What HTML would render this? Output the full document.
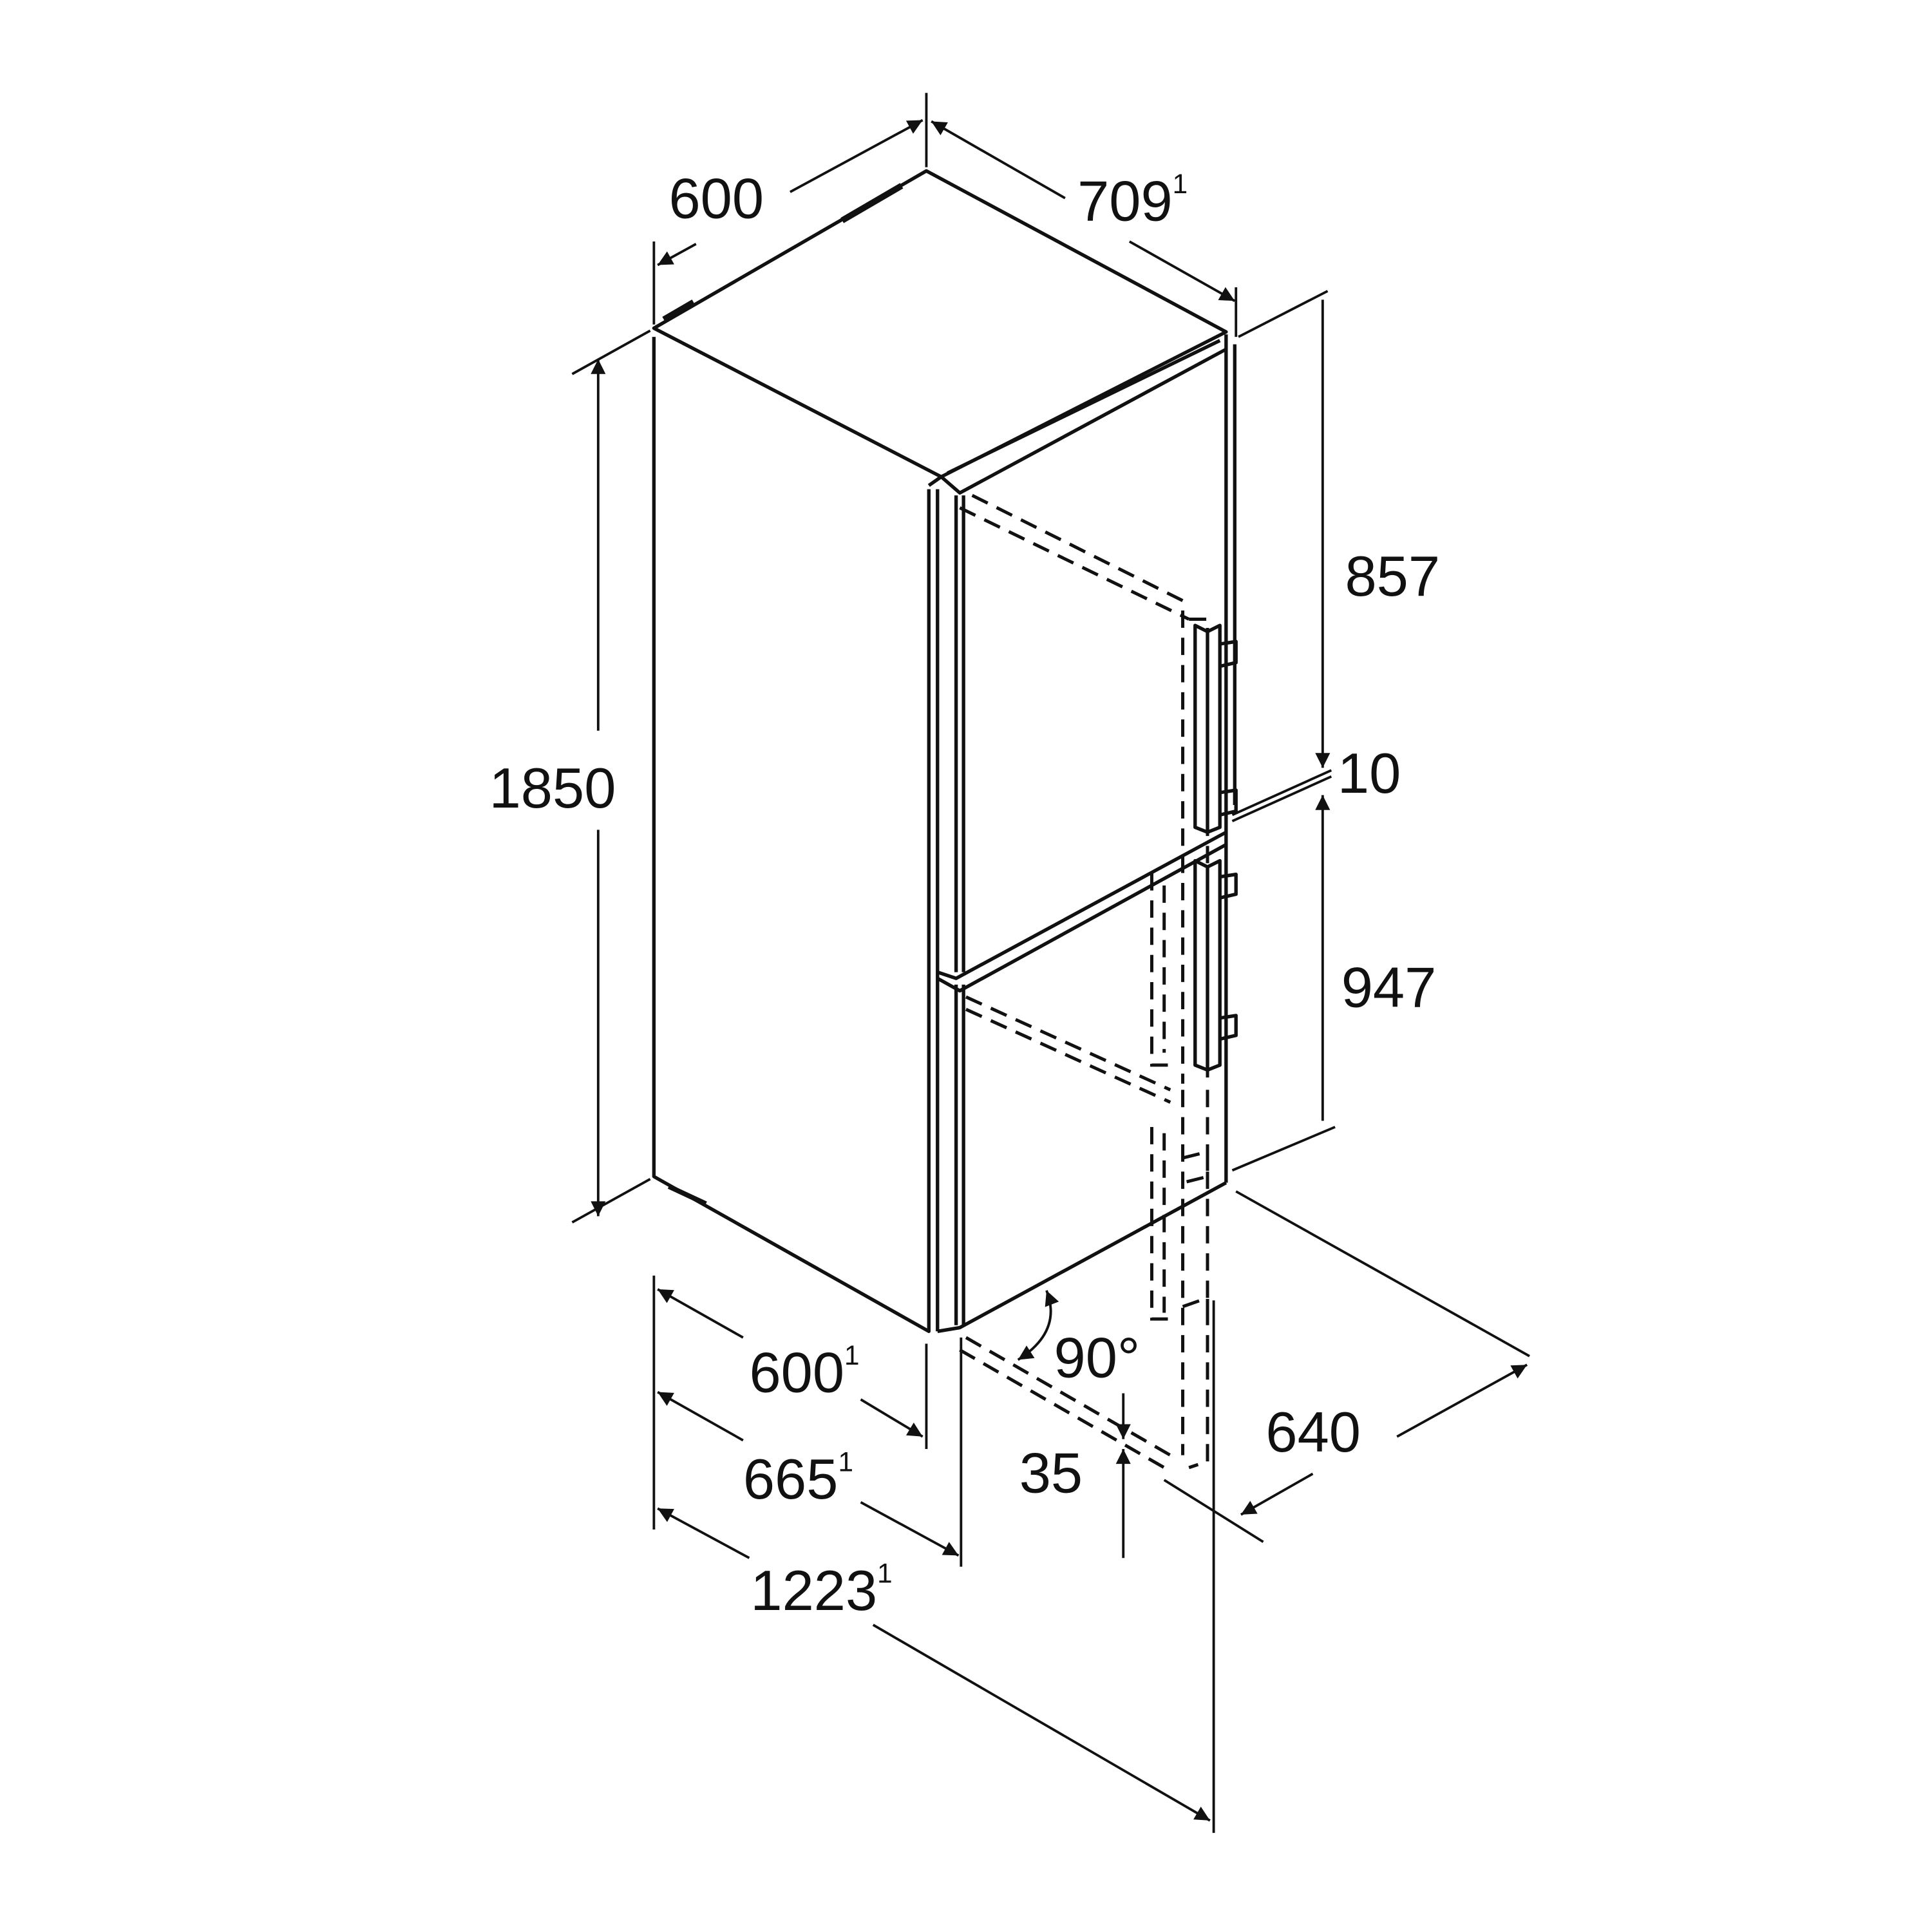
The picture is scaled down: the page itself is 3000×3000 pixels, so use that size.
<!DOCTYPE html>
<html><head><meta charset="utf-8"><style>
html,body{margin:0;padding:0;background:#fff}
svg{display:block}
text{font-family:"Liberation Sans",sans-serif;fill:#111}
</style></head><body>
<svg width="3000" height="3000" viewBox="0 0 1560 1560" xmlns="http://www.w3.org/2000/svg">
<defs>
<marker id="a" viewBox="0 0 10 10" refX="10" refY="5" markerWidth="20" markerHeight="12" markerUnits="userSpaceOnUse" orient="auto-start-reverse"><path d="M0,0L10,5L0,10z" fill="#111"/></marker>
</defs>
<g fill="none" stroke="#111" stroke-width="2.8" stroke-linejoin="round">
<path d="M528,265 L748,138 L990,268 L760,385 Z"/>
<path d="M536,258 L560,244" stroke-width="5"/>
<path d="M680,178 L728,150" stroke-width="5"/>
<path d="M760,385 L750,392"/>
<path d="M528,272 L528,950 L750,1075 L750,395"/>
<path d="M540,958 L570,972" stroke-width="4"/>
<path d="M760,385 L775,398 L990,282"/>
<path d="M765,382 L985,275"/>
<path d="M990,270 L990,955"/>
<path d="M997,278 L997,650"/>
<path d="M757,395 L757,1075"/>
<path d="M772,400 L772,785"/>
<path d="M778,400 L778,785"/>
<path d="M772,795 L772,1070"/>
<path d="M778,795 L778,1070"/>
<path d="M757,785 L772,790 L990,672"/>
<path d="M757,790 L775,800 L990,682"/>
<path d="M757,1075 L775,1072 L990,955"/>
<path d="M965,505 L965,668 L975,672 L975,510 Z"/>
<path d="M975,510 L985,505 L985,668 L975,672"/>
<path d="M985,520 L998,518 L998,535 L985,538"/>
<path d="M985,640 L998,638 L998,655 L985,658"/>
<path d="M965,695 L965,860 L975,864 L975,700 Z"/>
<path d="M975,700 L985,695 L985,860 L975,864"/>
<path d="M985,708 L998,706 L998,722 L985,725"/>
<path d="M985,822 L998,820 L998,836 L985,839"/>
</g>
<g fill="none" stroke="#111" stroke-width="2.6" stroke-dasharray="14,8">
<path d="M785,400 L955,485 L955,875"/>
<path d="M775,410 L960,500"/>
<path d="M960,500 L975,500 L975,870"/>
<path d="M780,805 L945,880"/>
<path d="M780,815 L945,890"/>
<path d="M930,705 L930,860 L945,860"/>
<path d="M940,715 L940,850"/>
<path d="M930,910 L930,1065 L945,1065"/>
<path d="M940,915 L940,1060"/>
<path d="M955,880 L955,1175"/>
<path d="M975,880 L975,1180 L960,1185"/>
<path d="M780,1080 L945,1175"/>
<path d="M775,1090 L940,1185"/>
<path d="M955,1055 L975,1048 L975,1060"/>
<path d="M955,935 L975,930 L975,950 L955,955"/>
</g>
<g fill="none" stroke="#111" stroke-width="2">
<path d="M528,195 L528,262"/><path d="M748,75 L748,135"/>
<path d="M638,155 L745,97" marker-end="url(#a)"/>
<path d="M562,197 L531,214" marker-end="url(#a)"/>
<path d="M860,160 L752,98" marker-end="url(#a)"/>
<path d="M912,195 L997,243" marker-end="url(#a)"/>
<path d="M998,232 L998,272"/>
<path d="M1000,272 L1072,235"/>
<path d="M462,302 L525,267"/><path d="M462,987 L525,952"/>
<path d="M483,590 L483,290" marker-end="url(#a)"/>
<path d="M483,670 L483,982" marker-end="url(#a)"/>
<path d="M1068,242 L1068,620" marker-end="url(#a)"/>
<path d="M1068,905 L1068,642" marker-end="url(#a)"/>
<path d="M995,658 L1075,622"/><path d="M995,663 L1075,627"/>
<path d="M995,945 L1078,910"/>
<path d="M998,962 L1235,1095"/>
<path d="M1128,1160 L1233,1102" marker-end="url(#a)"/>
<path d="M1060,1190 L1002,1223" marker-end="url(#a)"/>
<path d="M940,1195 L1020,1245"/>
<path d="M528,1030 L528,1235"/>
<path d="M748,1085 L748,1170"/>
<path d="M776,1080 L776,1265"/>
<path d="M980,1050 L980,1480"/>
<path d="M600,1080 L531,1041" marker-end="url(#a)"/>
<path d="M695,1130 L745,1160" marker-end="url(#a)"/>
<path d="M600,1163 L531,1124" marker-end="url(#a)"/>
<path d="M695,1213 L774,1256" marker-end="url(#a)"/>
<path d="M605,1258 L531,1218" marker-end="url(#a)"/>
<path d="M705,1312 L977,1470" marker-end="url(#a)"/>
<path d="M845,1042 Q858,1075 822,1098" marker-start="url(#a)" marker-end="url(#a)"/>
<path d="M907,1125 L907,1162" marker-end="url(#a)"/>
<path d="M907,1258 L907,1170" marker-end="url(#a)"/>
</g>
<g font-size="46">
<text x="540" y="176">600</text>
<text x="870" y="178">709<tspan font-size="22" dy="-22">1</tspan></text>
<text x="395" y="652">1850</text>
<text x="1086" y="481">857</text>
<text x="1080" y="640">10</text>
<text x="1083" y="813">947</text>
<text x="1022" y="1172">640</text>
<text x="605" y="1124">600<tspan font-size="22" dy="-22">1</tspan></text>
<text x="600" y="1210">665<tspan font-size="22" dy="-22">1</tspan></text>
<text x="606" y="1300">1223<tspan font-size="22" dy="-22">1</tspan></text>
<text x="851" y="1112">90°</text>
<text x="823" y="1205">35</text>
</g>
</svg>
</body></html>
